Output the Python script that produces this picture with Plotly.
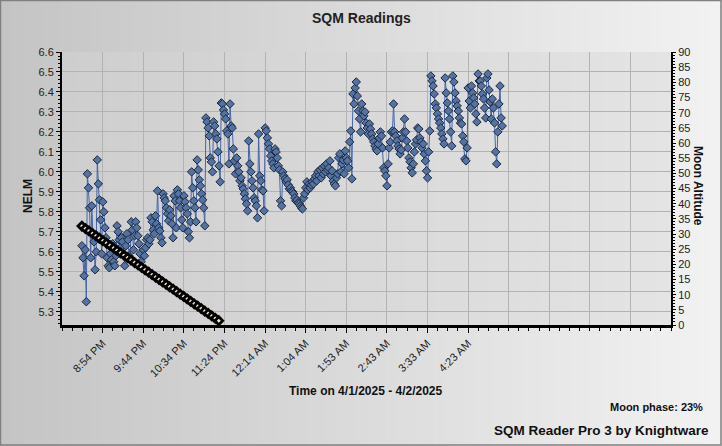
import plotly.graph_objects as go
import pandas as pd

# ---------------- data ----------------
title_text = "SQM Readings"
x_title = "Time on 4/1/2025 - 4/2/2025"
y_title = "NELM"
y2_title = "Moon Altitude"
moon_phase_text = "Moon phase: 23%"
credit_text = "SQM Reader Pro 3 by Knightware"

sqm_start = "2025-04-01 20:29:30"
sqm_end = "2025-04-02 05:05:20"
sqm_values = [
    5.63, 5.57, 5.48, 5.61,
    5.35, 5.99, 5.92, 5.82, 5.57,
    5.83, 5.69, 5.65, 5.51,
    5.60, 6.06, 5.94, 5.86, 5.76, 5.59,
    5.85, 5.80, 5.72, 5.67, 5.57, 5.53,
    5.52, 5.59, 5.56, 5.64, 5.55, 5.53, 5.58,
    5.73, 5.70, 5.66, 5.62, 5.67, 5.65, 5.59, 5.53, 5.63, 5.69,
    5.66, 5.58, 5.57, 5.75, 5.71, 5.61, 5.68,
    5.75, 5.72, 5.68, 5.64, 5.59, 5.55, 5.52,
    5.61, 5.58, 5.62, 5.66, 5.67, 5.64, 5.66, 5.77,
    5.75, 5.71, 5.69, 5.78, 5.74, 5.905, 5.72, 5.705, 5.67, 5.645,
    5.89, 5.87, 5.855, 5.82, 5.79, 5.755,
    5.81, 5.78, 5.74, 5.67, 5.88, 5.855, 5.72,
    5.91, 5.89, 5.855, 5.82, 5.76, 5.72,
    5.88, 5.85, 5.82, 5.79, 5.70, 5.67, 5.75,
    6.00, 5.92, 5.855, 5.82, 5.75,
    6.06, 6.01, 5.96, 5.93, 5.89, 5.86, 5.82, 5.73,
    6.27, 6.25, 6.22, 6.18, 6.07, 6.05, 6.00,
    6.25, 6.23, 6.19, 6.165, 6.10, 6.03, 5.95,
    6.345, 6.34, 6.31, 6.29, 6.265, 6.205, 6.19, 6.04,
    6.34, 6.23, 6.22, 6.115, 6.055, 5.99,
    6.07, 6.03, 6.00, 5.955, 5.97, 5.93, 5.915, 5.89, 5.865, 5.84, 5.805,
    6.155, 6.04, 6.00, 5.955, 5.92, 5.87, 5.855, 5.83, 5.77,
    6.19, 5.98, 5.955, 5.91, 5.905, 5.805,
    6.22, 6.205, 6.17, 6.14, 6.115, 6.08, 6.055, 6.04, 6.02,
    6.115, 6.10, 6.07, 6.03, 6.01, 5.855, 5.83,
    6.00, 5.98, 5.965, 5.95, 5.96, 5.935, 5.915, 5.92, 5.905,
    5.90, 5.89, 5.87, 5.855, 5.86, 5.845, 5.84, 5.83, 5.82, 5.815,
    5.87, 5.89, 5.92, 5.95, 5.91, 5.94,
    5.92, 5.935, 5.95, 5.94, 5.965, 5.98, 5.955, 6.00, 5.98, 6.01, 5.97, 6.02, 5.99, 6.03, 6.00, 6.04, 6.01,
    6.02, 6.055, 5.98, 6.005, 5.955, 5.94, 5.93, 5.97, 5.99, 6.07, 6.09, 6.00, 6.04, 6.06, 5.99,
    6.105, 6.07, 6.055, 6.02, 6.15, 6.205, 5.965,
    6.39, 6.34, 6.42, 6.45, 6.38, 6.305, 6.265, 6.20, 6.34,
    6.305, 6.28, 6.30, 6.245, 6.22, 6.19, 6.24,
    6.215, 6.19, 6.165, 6.15, 6.13, 6.115, 6.105, 6.14, 6.17, 6.20, 6.18,
    6.12, 6.02, 6.005, 5.98, 5.93, 6.04,
    6.12, 6.15, 6.20, 6.205, 6.34,
    6.20, 6.18, 6.155, 6.13, 6.115, 6.09, 6.11, 6.17, 6.20,
    6.265, 6.20, 6.155, 6.12, 6.07, 6.05, 6.02, 5.995, 6.04, 6.10, 6.14, 6.16, 6.22,
    6.215, 6.17, 6.15, 6.12, 6.14, 6.09, 6.055, 6.005, 5.97, 6.10, 6.205,
    6.48, 6.455, 6.43, 6.39, 6.34,
    6.32, 6.29, 6.265, 6.245, 6.22, 6.19, 6.165, 6.14,
    6.47, 6.395, 6.345, 6.305, 6.265, 6.20, 6.13,
    6.48, 6.45, 6.395, 6.355, 6.33, 6.305, 6.27, 6.245,
    6.24, 6.18, 6.15, 6.065, 6.055, 6.12, 6.42, 6.355, 6.32,
    6.43, 6.395, 6.37, 6.34, 6.29, 6.25, 6.49, 6.455,
    6.455, 6.43, 6.39, 6.365, 6.32, 6.27, 6.47, 6.49, 6.41, 6.35, 6.265,
    6.365, 6.32, 6.245, 6.10, 6.04, 6.20, 6.34, 6.43, 6.27, 6.23,
]

moon_start = "2025-04-01 20:29:30"
moon_end = "2025-04-01 23:17:30"
moon_altitude = [
    32.6, 31.8, 31.0, 30.2, 29.4, 28.6, 27.8, 27.0, 26.2, 25.4,
    24.6, 23.8, 23.0, 22.2, 21.4, 20.6, 19.8, 19.0, 18.2, 17.4,
    16.6, 15.8, 15.0, 14.2, 13.4, 12.6, 11.8, 11.0, 10.2, 9.4,
    8.6, 7.8, 7.0, 6.2, 5.4, 4.6, 3.8, 3.0, 2.2, 1.4,
]

x_axis_start = "2025-04-01 20:05:04"
x_tick_minutes = 49.83
x_tick_count = 15
x_tick_labels = ["8:54 PM", "9:44 PM", "10:34 PM", "11:24 PM", "12:14 AM",
                 "1:04 AM", "1:53 AM", "2:43 AM", "3:33 AM", "4:23 AM"]

nelm_range = [5.2335, 6.6]
moon_range = [0, 90]

# ---------------- build ----------------
sqm_times = pd.date_range(sqm_start, sqm_end, periods=len(sqm_values))
moon_times = pd.date_range(moon_start, moon_end, periods=len(moon_altitude))

x0 = pd.Timestamp(x_axis_start)
step = pd.Timedelta(minutes=x_tick_minutes)
x_end = x0 + step * x_tick_count
major_vals = [x0 + step * k for k in range(1, x_tick_count)]
major_text = [x_tick_labels[k] if k < len(x_tick_labels) else "" for k in range(len(major_vals))]
minor_vals = [x0 + step * (k / 4) for k in range(0, x_tick_count * 4 + 1)]

W, H = 722, 446
L, R, T, B = 62, 51, 52, 121
PW, PH = W - L - R, H - T - B

def px_x(px):
    return (px - L) / PW

def px_y(py):
    return (H - B - py) / PH

FONT = "Liberation Sans, Arial, sans-serif"

fig = go.Figure()

fig.add_trace(go.Scatter(
    x=sqm_times, y=sqm_values, mode="lines+markers", yaxis="y",
    line=dict(color="#4565a8", width=1),
    marker=dict(symbol="diamond", size=6.5, color="#5473a3",
                line=dict(color="#1b2940", width=1)),
    showlegend=False, hoverinfo="skip",
))
fig.add_trace(go.Scatter(
    x=moon_times, y=moon_altitude, mode="markers", yaxis="y2",
    marker=dict(symbol="diamond", size=6, color="#f9e6c8",
                line=dict(color="#000000", width=2.8)),
    showlegend=False, hoverinfo="skip",
))

shapes = []
N = 120
def lerp(a, b, t):
    return int(round(a + (b - a) * t))
cl, cr = 196, 242
for i in range(N):
    t = i / (N - 1)
    g = lerp(cl, cr, t)
    shapes.append(dict(type="rect", xref="paper", yref="paper", layer="below",
                       x0=px_x(i * W / N), x1=px_x((i + 1) * W / N + 0.6),
                       y0=px_y(H), y1=px_y(0),
                       fillcolor=f"rgb({g},{g},{g})", line=dict(width=0)))
M = 80
pl, pr = 206, 228
for i in range(M):
    t = i / (M - 1)
    g = lerp(pl, pr, t)
    shapes.append(dict(type="rect", xref="paper", yref="paper", layer="below",
                       x0=i / M, x1=(i + 1) / M + 0.002, y0=0, y1=1,
                       fillcolor=f"rgb({g},{g},{g})", line=dict(width=0)))
shapes.append(dict(type="rect", xref="paper", yref="paper", layer="above",
                   x0=px_x(0.5), x1=px_x(W - 1), y0=px_y(H - 1), y1=px_y(0.5),
                   line=dict(color="#808080", width=1.5), fillcolor="rgba(0,0,0,0)"))

annotations = [
    dict(text=f"<b>{title_text}</b>", x=px_x(W / 2), y=px_y(18), xref="paper", yref="paper",
         showarrow=False, font=dict(family=FONT, size=14, color="#222222"),
         xanchor="center", yanchor="middle"),
    dict(text=f"<b>{x_title}</b>", x=px_x(366), y=px_y(391), xref="paper", yref="paper",
         showarrow=False, font=dict(family=FONT, size=12, color="#111111"),
         xanchor="center", yanchor="middle"),
    dict(text=f"<b>{y_title}</b>", x=px_x(28), y=px_y(196), xref="paper", yref="paper",
         showarrow=False, textangle=-90, font=dict(family=FONT, size=12, color="#111111"),
         xanchor="center", yanchor="middle"),
    dict(text=f"<b>{y2_title}</b>", x=px_x(698), y=px_y(186), xref="paper", yref="paper",
         showarrow=False, textangle=90, font=dict(family=FONT, size=12, color="#111111"),
         xanchor="center", yanchor="middle"),
    dict(text=f"<b>{moon_phase_text}</b>", x=px_x(705), y=px_y(407), xref="paper", yref="paper",
         showarrow=False, font=dict(family=FONT, size=11, color="#111111"),
         xanchor="right", yanchor="middle"),
    dict(text=f"<b>{credit_text}</b>", x=px_x(711), y=px_y(430), xref="paper", yref="paper",
         showarrow=False, font=dict(family=FONT, size=13.5, color="#111111"),
         xanchor="right", yanchor="middle"),
]

fig.update_layout(
    width=W, height=H,
    margin=dict(l=L, r=R, t=T, b=B, pad=0, autoexpand=False),
    paper_bgcolor="rgb(220,220,220)",
    plot_bgcolor="rgba(0,0,0,0)",
    font=dict(family=FONT, size=11, color="#222222"),
    shapes=shapes,
    annotations=annotations,
    xaxis=dict(
        type="date", range=[x0, x_end],
        tickmode="array", tickvals=major_vals, ticktext=major_text,
        tickangle=-45, ticks="outside", ticklen=5, tickwidth=1, tickcolor="#000",
        showgrid=True, gridcolor="#b3b3b3", gridwidth=1,
        showline=True, linecolor="#000000", linewidth=2.5,
        zeroline=False, tickfont=dict(family=FONT, size=11, color="#222222"),
        minor=dict(tickvals=minor_vals, ticks="outside", ticklen=3, tickcolor="#000", showgrid=False),
    ),
    yaxis=dict(
        range=nelm_range, tickmode="linear", tick0=5.3, dtick=0.1, tickformat=".1f",
        ticks="outside", ticklen=4, tickcolor="#000",
        showgrid=True, gridcolor="#b3b3b3", gridwidth=1,
        showline=True, linecolor="#000000", linewidth=2,
        zeroline=False, tickfont=dict(family=FONT, size=11, color="#222222"),
        minor=dict(dtick=0.02, tick0=5.3, ticks="outside", ticklen=2, tickcolor="#000", showgrid=False),
    ),
    yaxis2=dict(
        range=moon_range, overlaying="y", side="right",
        tickmode="linear", tick0=0, dtick=5,
        ticks="outside", ticklen=3, tickcolor="#000",
        showgrid=False, showline=True, linecolor="#000000", linewidth=2,
        zeroline=False, tickfont=dict(family=FONT, size=11, color="#222222"),
        minor=dict(dtick=1, tick0=0, ticks="outside", ticklen=2, tickcolor="#000", showgrid=False),
    ),
)

fig.write_html("out.html", config=dict(displayModeBar=False),
               post_script="document.body.style.margin='0';document.body.style.padding='0';")
